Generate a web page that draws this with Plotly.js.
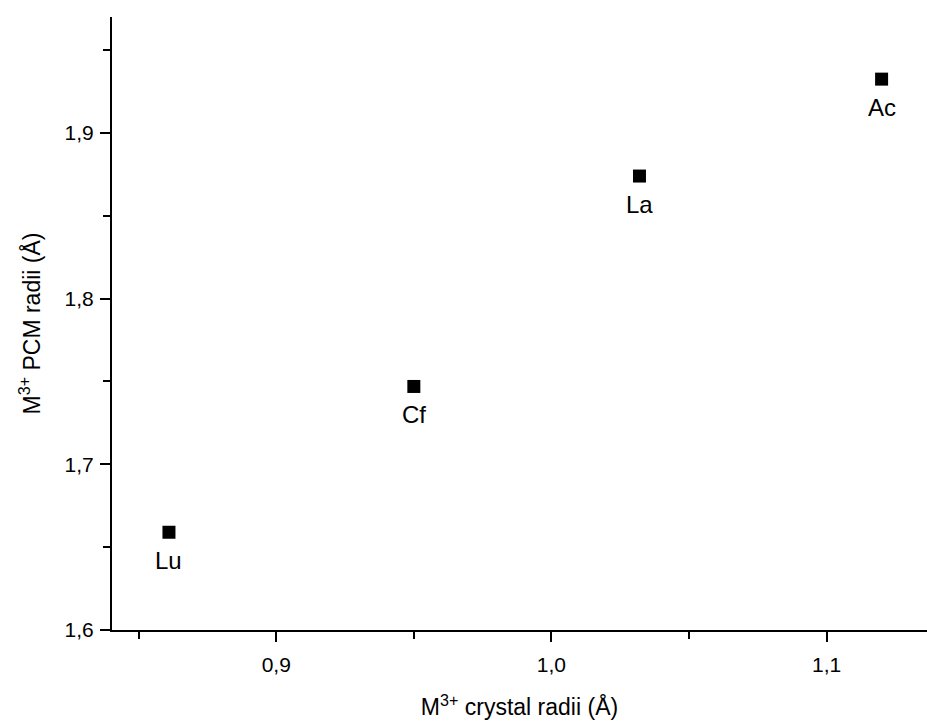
<!DOCTYPE html>
<html>
<head>
<meta charset="utf-8">
<script src="https://cdn.plot.ly/plotly-3.0.1.min.js"></script>
<style>html,body{margin:0;padding:0;background:#fff;}#chart{width:927px;height:726px;}</style>
</head>
<body>
<div id="chart"></div>
<script>
const elements = ["Lu", "Cf", "La", "Ac"];
const crystalRadii = [0.861, 0.950, 1.032, 1.120];
const pcmRadii = [1.659, 1.747, 1.874, 1.9325];

const trace = {
  x: crystalRadii,
  y: pcmRadii,
  mode: 'markers',
  type: 'scatter',
  marker: {symbol: 'square', size: 13, color: '#000'},
  cliponaxis: false,
  hoverinfo: 'none'
};

const labelAnnotations = elements.map((name, i) => ({
  x: crystalRadii[i],
  y: pcmRadii[i],
  xref: 'x',
  yref: 'y',
  text: name,
  showarrow: false,
  yshift: -28,
  font: {family: 'Liberation Sans, Arial, sans-serif', size: 24, color: '#000'}
}));

const layout = {
  width: 927,
  height: 726,
  paper_bgcolor: '#fff',
  plot_bgcolor: '#fff',
  separators: ',.',
  showlegend: false,
  margin: {l: 112, r: 0, t: 17, b: 96},
  font: {family: 'Liberation Sans, Arial, sans-serif', color: '#000', size: 21},
  annotations: labelAnnotations,
  xaxis: {
    range: [0.8403, 1.1365],
    tickvals: [0.9, 1.0, 1.1],
    tickformat: '.1f',
    ticks: 'outside',
    ticklen: 10,
    tickwidth: 2,
    tickcolor: '#000',
    ticklabelstandoff: 5,
    showline: true,
    linewidth: 2,
    linecolor: '#000',
    showgrid: false,
    zeroline: false,
    tickfont: {size: 21},
    minor: {tickvals: [0.85, 0.95, 1.05], ticks: 'outside', ticklen: 7, tickwidth: 2, tickcolor: '#000', showgrid: false},
    title: {text: 'M<sup>3+</sup> crystal radii (Å)', font: {size: 23}, standoff: 24}
  },
  yaxis: {
    range: [1.6, 1.97],
    tickvals: [1.6, 1.7, 1.8, 1.9],
    tickformat: '.1f',
    ticks: 'outside',
    ticklen: 10,
    tickwidth: 2,
    tickcolor: '#000',
    ticklabelstandoff: 2,
    showline: true,
    linewidth: 2,
    linecolor: '#000',
    showgrid: false,
    zeroline: false,
    tickfont: {size: 21},
    minor: {tickvals: [1.65, 1.75, 1.85, 1.95], ticks: 'outside', ticklen: 7, tickwidth: 2, tickcolor: '#000', showgrid: false},
    title: {text: 'M<sup>3+</sup> PCM radii (Å)', font: {size: 23}, standoff: 18}
  }
};

Plotly.newPlot('chart', [trace], layout, {staticPlot: true, displayModeBar: false});
</script>
</body>
</html>
